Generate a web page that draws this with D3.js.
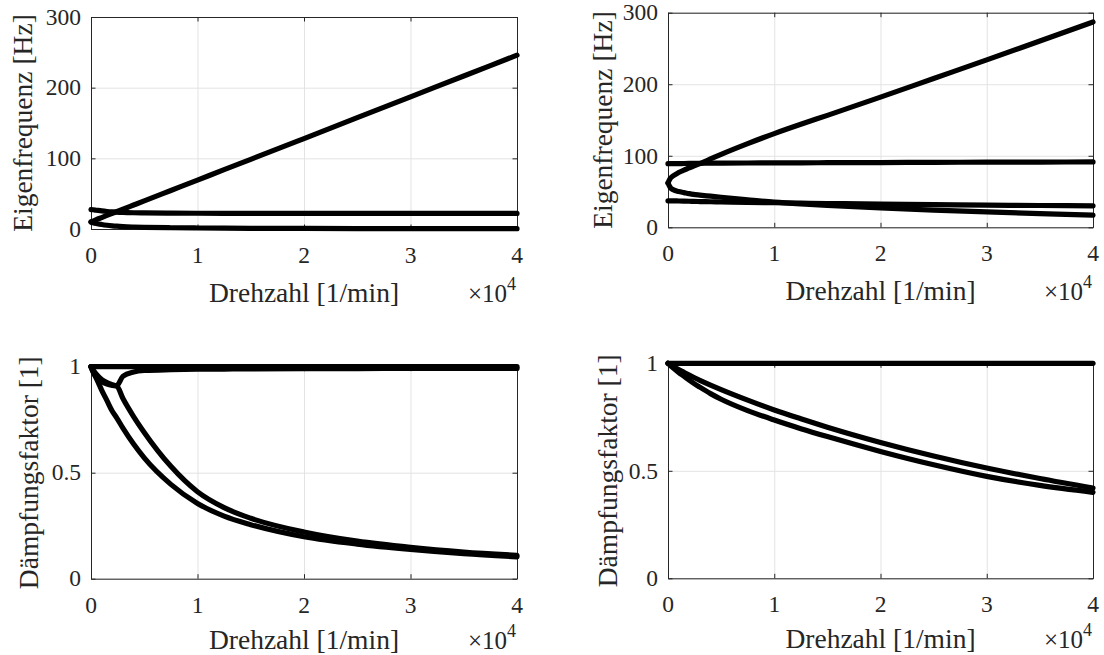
<!DOCTYPE html>
<html>
<head>
<meta charset="utf-8">
<script src="https://cdn.jsdelivr.net/npm/d3@7"></script>
<style>
  body { margin: 0; background: #fff; }
</style>
</head>
<body>
<div id="chartContainer"></div>
<script>
// Drehzahl samples [1/min], shared by all curves
const rpm = [0, 200, 500, 1000, 1500, 2000, 2400, 3000, 4000, 5000, 7500, 10000, 12500, 15000, 20000, 25000, 30000, 35000, 40000];

// top left - Eigenfrequenz [Hz]
const tlForward = [10, 11.3, 13.2, 16.2, 19.2, 22.1, 24.5, 28, 33.9, 39.8, 54.5, 69.2, 84, 98.6, 128, 157.5, 187, 216.5, 246];
const tlBackward = [10, 9, 7.8, 6.4, 5.3, 4.5, 4, 3.4, 2.8, 2.4, 1.8, 1.45, 1.2, 1.0, 0.78, 0.63, 0.53, 0.46, 0.4];
const tlFlat = [27.5, 27.2, 26.6, 25.6, 24.8, 24.2, 23.8, 23.4, 23, 22.8, 22.5, 22.3, 22.2, 22.2, 22.1, 22, 22, 22, 22];

// top right - Eigenfrequenz [Hz]
const trForward = [62, 68, 72, 76.5, 80, 83, 85.5, 89, 95.5, 102, 117, 131, 144, 156.5, 182, 208, 234, 260.5, 287];
const trBackward = [62, 56, 52.5, 50, 48.5, 47, 46, 45, 43.5, 42, 38.5, 35.2, 32.7, 30.6, 27, 24, 21.5, 19.2, 17];
const trLow = [37, 37, 37, 36.8, 36.6, 36.4, 36.2, 36, 35.7, 35.4, 34.8, 34.3, 33.8, 33.3, 32.5, 31.7, 31, 30.5, 30];
const trHigh = [89, 89, 89, 89, 89.2, 89.3, 89.4, 89.5, 89.6, 89.7, 89.9, 90, 90.2, 90.3, 90.5, 90.8, 91, 91.2, 91.4];

// bottom left - Daempfungsfaktor [1]
const blOne = [1, 1, 1, 1, 1, 1, 1, 1, 1, 1, 1, 1, 1, 1, 1, 1, 1, 1, 1];
const blReturn = [1, 0.985, 0.965, 0.94, 0.925, 0.915, 0.91, 0.955, 0.975, 0.982, 0.986, 0.988, 0.989, 0.99, 0.991, 0.991, 0.992, 0.992, 0.992];
const blUpper = [1, 0.975, 0.95, 0.93, 0.918, 0.912, 0.91, 0.85, 0.765, 0.69, 0.53, 0.41, 0.335, 0.285, 0.22, 0.177, 0.148, 0.126, 0.11];
const blLower = [1, 0.975, 0.945, 0.89, 0.84, 0.79, 0.76, 0.71, 0.635, 0.57, 0.445, 0.355, 0.295, 0.255, 0.198, 0.163, 0.138, 0.118, 0.103];

// bottom right - Daempfungsfaktor [1]
const brOne = [1, 1, 1, 1, 1, 1, 1, 1, 1, 1, 1, 1, 1, 1, 1, 1, 1, 1, 1];
const brUpper = [1, 0.994, 0.985, 0.971, 0.958, 0.945, 0.935, 0.921, 0.899, 0.878, 0.829, 0.783, 0.742, 0.703, 0.632, 0.569, 0.513, 0.464, 0.42];
const brLower = [1, 0.991, 0.978, 0.958, 0.94, 0.922, 0.908, 0.889, 0.859, 0.833, 0.78, 0.736, 0.696, 0.659, 0.59, 0.528, 0.474, 0.432, 0.4];

const xTicks = [0, 10000, 20000, 30000, 40000];
const freqTicks = [0, 100, 200, 300];
const dampTicks = [0, 0.5, 1];
const xLabel = 'Drehzahl [1/min]';
const freqLabel = 'Eigenfrequenz [Hz]';
const dampLabel = 'Dämpfungsfaktor [1]';

const width = 1104;
const height = 655;
const font = 'Liberation Serif';
const tickFont = 23.5;
const labelFont = 27.5;

const panels = [
  { left: 91, right: 517, top: 17, bottom: 229, yMax: 300, yTicks: freqTicks, yLabel: freqLabel, yLabelOff: 59, xLabelOff: 73,
    series: [tlFlat, tlBackward, tlForward] },
  { left: 668, right: 1093, top: 12.7, bottom: 227.3, yMax: 300, yTicks: freqTicks, yLabel: freqLabel, yLabelOff: 56, xLabelOff: 73,
    series: [trHigh, trLow, trBackward, trForward] },
  { left: 91, right: 517, top: 366.7, bottom: 578.7, yMax: 1, yTicks: dampTicks, yLabel: dampLabel, yLabelOff: 53, xLabelOff: 70,
    series: [blOne, blReturn, blUpper, blLower] },
  { left: 668, right: 1093, top: 363.3, bottom: 578.3, yMax: 1, yTicks: dampTicks, yLabel: dampLabel, yLabelOff: 51, xLabelOff: 70,
    series: [brOne, brUpper, brLower] }
];

const svg = d3
  .select('#chartContainer')
  .append('svg')
  .attr('width', width)
  .attr('height', height)
  .attr('font-family', font)
  .attr('fill', '#262626');

panels.forEach(p => {
  const x = d3.scaleLinear().domain([0, 40000]).range([p.left, p.right]);
  const y = d3.scaleLinear().domain([0, p.yMax]).range([p.bottom, p.top]);
  const w = p.right - p.left;
  const h = p.bottom - p.top;
  const g = svg.append('g');

  // grid
  g.append('g')
    .attr('transform', `translate(0,${p.bottom})`)
    .call(d3.axisBottom(x).tickValues(xTicks).tickSize(-h).tickFormat(''))
    .call(s => s.select('.domain').remove())
    .selectAll('line').attr('stroke', '#e3e3e3');
  g.append('g')
    .attr('transform', `translate(${p.left},0)`)
    .call(d3.axisLeft(y).tickValues(p.yTicks).tickSize(-w).tickFormat(''))
    .call(s => s.select('.domain').remove())
    .selectAll('line').attr('stroke', '#e3e3e3');

  // box with inward ticks on all sides
  const sides = [
    [d3.axisBottom(x).tickValues(xTicks), `translate(0,${p.bottom})`],
    [d3.axisTop(x).tickValues(xTicks), `translate(0,${p.top})`],
    [d3.axisLeft(y).tickValues(p.yTicks), `translate(${p.left},0)`],
    [d3.axisRight(y).tickValues(p.yTicks), `translate(${p.right},0)`]
  ];
  sides.forEach(([ax, tr]) => {
    g.append('g')
      .attr('transform', tr)
      .call(ax.tickSize(-4.5).tickSizeOuter(0).tickFormat(''))
      .call(s => s.selectAll('path, line').attr('stroke', '#262626').attr('stroke-width', 1));
  });

  // tick labels
  g.selectAll('.xt')
    .data(xTicks)
    .enter()
    .append('text')
    .attr('x', d => x(d))
    .attr('y', p.bottom + 34)
    .attr('text-anchor', 'middle')
    .attr('font-family', font)
    .attr('font-size', tickFont)
    .attr('fill', '#262626')
    .text(d => d / 10000);
  g.selectAll('.yt')
    .data(p.yTicks)
    .enter()
    .append('text')
    .attr('x', p.left - 10)
    .attr('y', d => y(d))
    .attr('dy', '0.33em')
    .attr('text-anchor', 'end')
    .attr('font-family', font)
    .attr('font-size', tickFont)
    .attr('fill', '#262626')
    .text(d => d);

  // exponent
  const ex = g.append('text')
    .attr('x', p.right - 1)
    .attr('y', p.bottom + p.xLabelOff)
    .attr('text-anchor', 'end')
    .attr('font-family', font)
    .attr('font-size', 25)
    .attr('fill', '#262626');
  ex.append('tspan').text('×10');
  ex.append('tspan').attr('dy', -12).attr('font-size', 18).text('4');

  // axis labels
  g.append('text')
    .attr('x', (p.left + p.right) / 2)
    .attr('y', p.bottom + p.xLabelOff)
    .attr('text-anchor', 'middle')
    .attr('font-family', font)
    .attr('font-size', labelFont)
    .attr('fill', '#262626')
    .text(xLabel);
  g.append('text')
    .attr('transform', `translate(${p.left - p.yLabelOff},${(p.top + p.bottom) / 2}) rotate(-90)`)
    .attr('text-anchor', 'middle')
    .attr('font-family', font)
    .attr('font-size', labelFont)
    .attr('fill', '#262626')
    .text(p.yLabel);

  // curves
  const line = d3.line()
    .x(d => x(d[0]))
    .y(d => y(d[1]))
    .curve(d3.curveMonotoneX);
  p.series.forEach(vals => {
    g.append('path')
      .attr('d', line(rpm.map((r, i) => [r, vals[i]])))
      .attr('fill', 'none')
      .attr('stroke', '#000')
      .attr('stroke-width', 5.2)
      .attr('stroke-linecap', 'round')
      .attr('stroke-linejoin', 'round');
  });
});
</script>
</body>
</html>
